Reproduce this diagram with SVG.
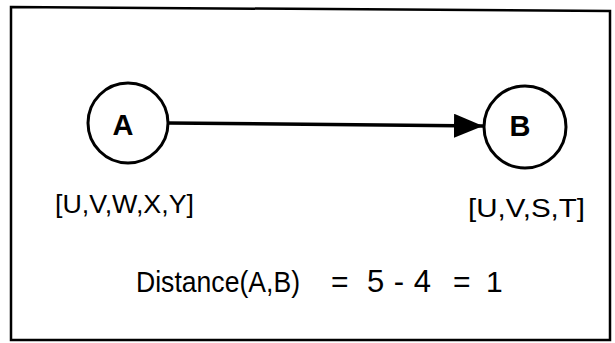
<svg xmlns="http://www.w3.org/2000/svg" width="615" height="343" viewBox="0 0 615 343">
<style>
.frame{fill:none;stroke:#000;stroke-width:2.5}
.node{fill:#fff;stroke:#000;stroke-width:3}
.nl{font-family:"Liberation Sans",Arial,sans-serif;font-weight:bold;font-size:29px;text-anchor:middle;fill:#000}
.lab{font-family:"Liberation Sans",Arial,sans-serif;font-size:25px;fill:#000}
.dist{font-family:"Liberation Sans",Arial,sans-serif;font-size:30px;fill:#000}
.edge{stroke:#000;stroke-width:3.5;fill:none}
</style>
<defs>
<marker id="arrow" viewBox="0 0 29 24" refX="29" refY="12" markerWidth="29" markerHeight="24" markerUnits="userSpaceOnUse" orient="auto">
<path d="M0,0 L29,12 L0,24 Z" fill="#000"/>
</marker>
</defs>
<rect width="615" height="343" fill="#fff"/>
<polygon class="frame" points="11,7 610,11 610,340 11,340"/>
<g id="connectors">
<line class="edge" x1="168" y1="123" x2="483" y2="126" marker-end="url(#arrow)"/>
</g>
<g id="nodeA">
<circle class="node" cx="128" cy="123" r="40"/>
<text class="nl" x="123" y="135">A</text>
</g>
<g id="nodeB">
<circle class="node" cx="525" cy="127" r="41"/>
<text class="nl" x="520" y="136">B</text>
</g>
<g id="labelA">
<text class="lab" x="55" y="213" textLength="139" lengthAdjust="spacingAndGlyphs">[U,V,W,X,Y]</text>
</g>
<g id="labelB">
<text class="lab" x="468" y="217" textLength="117" lengthAdjust="spacingAndGlyphs">[U,V,S,T]</text>
</g>
<g id="distance">
<text class="dist" y="292"><tspan x="136" textLength="164" lengthAdjust="spacingAndGlyphs">Distance(A,B)</tspan><tspan x="331">=</tspan><tspan x="367" font-size="31" textLength="64" lengthAdjust="spacing">5-4</tspan><tspan x="453">=</tspan><tspan x="486">1</tspan></text>
</g>
</svg>
